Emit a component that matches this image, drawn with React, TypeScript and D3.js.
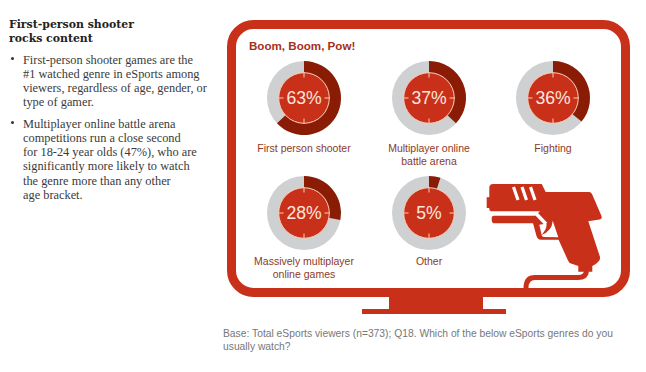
import React from "react";
import * as d3 from "d3";

const genres = ["First person shooter", "Multiplayer online battle arena", "Fighting", "Massively multiplayer online games", "Other"];
const shares = [63, 37, 36, 28, 5];
const labelLines = [["First person shooter"], ["Multiplayer online", "battle arena"], ["Fighting"], ["Massively multiplayer", "online games"], ["Other"]];
const centersX = [304, 429, 553, 304, 429];
const centersY = [98, 98, 98, 213, 213];
const titleLines = ["First-person shooter", "rocks content"];
const bullet1 = ["First-person shooter games are the", "#1 watched genre in eSports among", "viewers, regardless of age, gender, or", "type of gamer."];
const bullet2 = ["Multiplayer online battle arena", "competitions run a close second", "for 18-24 year olds (47%), who are", "significantly more likely to watch", "the genre more than any other", "age bracket."];
const footer = ["Base: Total eSports viewers (n=373); Q18. Which of the below eSports genres do you", "usually watch?"];

const RED = "#c9301a";
const DARK = "#8a1c06";
const GREY = "#cfd0d2";
const LIGHT = "#f6cdb5";
const SANS = "'Liberation Sans', Arial, sans-serif";
const SERIF = "'Liberation Serif', serif";

const angle = d3.scaleLinear().domain([0, 100]).range([0, 2 * Math.PI]);
const ring = d3.arc();

function Donut({ i }: { i: number }) {
  const cx = centersX[i], cy = centersY[i], v = shares[i];
  const r = 37, inner = 25;
  const bg = ring({ innerRadius: inner, outerRadius: r, startAngle: 0, endAngle: 2 * Math.PI } as any) as string;
  const fg = ring({ innerRadius: inner, outerRadius: r, startAngle: 0, endAngle: angle(v) } as any) as string;
  const ticks = [[0, -1], [0, 1], [-1, 0], [1, 0]];
  const labelY = i < 3 ? 53.5 : 52;
  return (
    <g transform={`translate(${cx},${cy})`}>
      <path d={bg} fill={GREY} />
      <path d={fg} fill={DARK} />
      <circle r={25.3} fill={RED} stroke={LIGHT} strokeWidth={1} />
      {ticks.map(([a, b], k) => (
        <line key={k} x1={a * 20.5} y1={b * 20.5} x2={a * 26} y2={b * 26} stroke={LIGHT} strokeWidth={1} />
      ))}
      <text y={6} textAnchor="middle" fontFamily={SANS} fontSize={17.6} fill="#fbe6da">{v}%</text>
      {labelLines[i].map((t, k) => (
        <text key={k} y={labelY + k * 13.4} textAnchor="middle" fontFamily={SANS} fontSize={10.5} fill="#8c3a28">{t}</text>
      ))}
    </g>
  );
}

const gunBody = "M493 184 L541.7 184 L545.7 192 L589 192 Q591 192 592 194 L601.5 216 Q602.5 219 599.5 219.5 L588.3 221.3 L600 257 Q600.5 260 598 262 Q596 264.5 592.3 266 L592.3 271.7 L578.3 271.7 L578.3 266 L571 263.5 Q569 263 568 260.5 L558.6 239.7 L541 239.7 Q537.5 239.7 536.5 236 L533 223.2 L494 223.2 Q491.7 223 491.7 220 L491.7 218 Q491.7 215.7 494 215.7 L535 215.7 L540 211.3 L491 211.3 Q489.3 211 489.3 209 L489.3 208 L486.7 208 L486.7 197.3 L489.3 197.3 L489.3 187.5 Q489.5 184 493 184 Z";

export default function App() {
  return (
    <svg width={646} height={372} style={{ position: "absolute", left: 0, top: 0, background: "#fff" }}>
      {titleLines.map((t, i) => (
        <text key={t} x={9} y={27.5 + i * 14} fontFamily="'DejaVu Serif', serif" fontWeight="bold" fontSize={10.9} fill="#222">{t}</text>
      ))}
      <circle cx={12.5} cy={58.5} r={1.5} fill="#333" />
      {bullet1.map((t, i) => (
        <text key={t} x={23} y={63.5 + i * 14.3} fontFamily={SERIF} fontSize={12.35} fill="#3a3a3a">{t}</text>
      ))}
      <circle cx={12.5} cy={122.5} r={1.5} fill="#333" />
      {bullet2.map((t, i) => (
        <text key={t} x={23} y={127.5 + i * 14.3} fontFamily={SERIF} fontSize={12.35} fill="#3a3a3a">{t}</text>
      ))}

      <rect x={231.5} y={24.5} width={394} height={268} rx={22} fill="none" stroke={RED} strokeWidth={9} />
      <rect x={389} y={296} width={94} height={13} fill={RED} />
      <rect x={362} y={309} width={144} height={5} fill={RED} />

      <text x={249} y={50} fontFamily={SANS} fontWeight="bold" fontSize={11.6} fill="#a5301c">Boom, Boom, Pow!</text>
      {genres.map((g, i) => <Donut key={g} i={i} />)}

      <path d={gunBody} fill={RED} />
      <path d="M513.5 187 L518 200 M522 187 L526.5 200 M530.5 187 L535 200" stroke="#fff" strokeWidth={3.2} fill="none" />
      <path d="M536 213.5 L546 224" stroke="#fff" strokeWidth={3.5} fill="none" />
      <path d="M539.3 224.7 L541.7 235.3 Q541.9 237 544 237 L558.3 237.3 L552.7 220.7 Q552 231 541.5 235 Q547 229 546.5 224 L544 224 Z" fill="#fff" />
      <path d="M586.5 271 Q586 277.5 578 277.5 L535 277.5 Q526 277.5 526 288" stroke={RED} strokeWidth={5} fill="none" />

      {footer.map((t, i) => (
        <text key={t} x={223} y={337 + i * 12.5} fontFamily={SANS} fontSize={10.3} fill="#77777a">{t}</text>
      ))}
    </svg>
  );
}
